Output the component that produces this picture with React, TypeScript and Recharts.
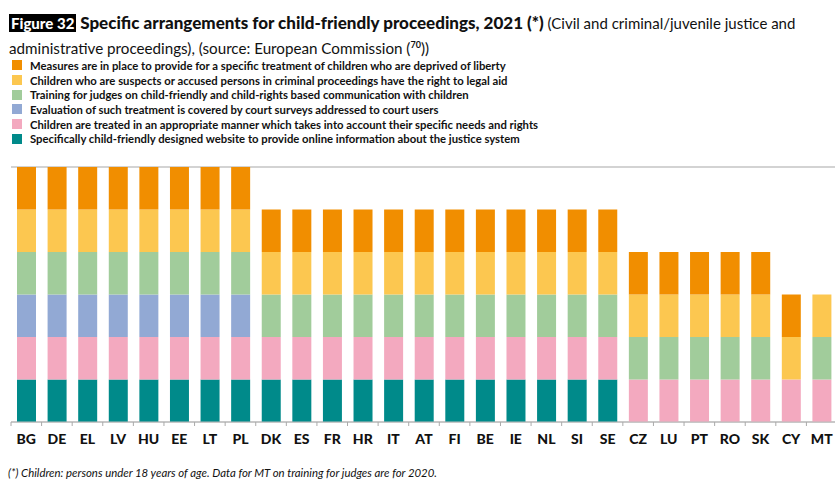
import { BarChart, Bar, XAxis, YAxis, CartesianGrid } from "recharts";

const countries = ["BG", "DE", "EL", "LV", "HU", "EE", "LT", "PL", "DK", "ES", "FR", "HR", "IT", "AT", "FI", "BE", "IE", "NL", "SI", "SE", "CZ", "LU", "PT", "RO", "SK", "CY", "MT"];

// 1 = arrangement in place, 0 = not in place
const website = [1, 1, 1, 1, 1, 1, 1, 1, 1, 1, 1, 1, 1, 1, 1, 1, 1, 1, 1, 1, 0, 0, 0, 0, 0, 0, 0];
const appropriate = [1, 1, 1, 1, 1, 1, 1, 1, 1, 1, 1, 1, 1, 1, 1, 1, 1, 1, 1, 1, 1, 1, 1, 1, 1, 1, 1];
const surveys = [1, 1, 1, 1, 1, 1, 1, 1, 0, 0, 0, 0, 0, 0, 0, 0, 0, 0, 0, 0, 0, 0, 0, 0, 0, 0, 0];
const training = [1, 1, 1, 1, 1, 1, 1, 1, 1, 1, 1, 1, 1, 1, 1, 1, 1, 1, 1, 1, 1, 1, 1, 1, 1, 0, 1];
const legalAid = [1, 1, 1, 1, 1, 1, 1, 1, 1, 1, 1, 1, 1, 1, 1, 1, 1, 1, 1, 1, 1, 1, 1, 1, 1, 1, 1];
const liberty = [1, 1, 1, 1, 1, 1, 1, 1, 1, 1, 1, 1, 1, 1, 1, 1, 1, 1, 1, 1, 1, 1, 1, 1, 1, 1, 0];

const yTicks = [0, 1, 2, 3, 4, 5, 6];

// legend order (top to bottom), stack order is the reverse
const series = [
  { key: "liberty", color: "#f18e00", label: "Measures are in place to provide for a specific treatment of children who are deprived of liberty" },
  { key: "legalAid", color: "#fcc750", label: "Children who are suspects or accused persons in criminal proceedings have the right to legal aid" },
  { key: "training", color: "#a1cc9b", label: "Training for judges on child-friendly and child-rights based communication with children" },
  { key: "surveys", color: "#92a9d4", label: "Evaluation of such treatment is covered by court surveys addressed to court users" },
  { key: "appropriate", color: "#f3a9bf", label: "Children are treated in an appropriate manner which takes into account their specific needs and rights" },
  { key: "website", color: "#008a8a", label: "Specifically child-friendly designed website to provide online information about the justice system" },
];

const data = countries.map((c, i) => ({
  country: c,
  website: website[i],
  appropriate: appropriate[i],
  surveys: surveys[i],
  training: training[i],
  legalAid: legalAid[i],
  liberty: liberty[i],
}));

const FONT = "Lato, 'Open Sans', sans-serif";
const BAND = (840 - 11 - 3) / countries.length;

const CountryTick = ({ x, y, payload }: any) => (
  <g>
    <line x1={x - BAND / 2} y1={y} x2={x - BAND / 2} y2={y + 4} stroke="#aaa" />
    <text x={x} y={y + 22} textAnchor="middle" fontFamily={FONT} fontWeight={900} fontSize={14} fill="#111">
      {payload.value}
    </text>
  </g>
);

export default function App() {
  return (
    <div style={{ position: "absolute", left: 0, top: 0, width: 835, height: 480, overflow: "hidden", background: "#fff", fontFamily: FONT }}>
      {/* Title */}
      <div style={{ position: "absolute", left: 9, top: 12, width: 826, fontSize: 15, lineHeight: "22px", color: "#111", whiteSpace: "nowrap" }}>
        <span style={{ background: "#000", color: "#fff", fontWeight: 900, padding: "0 2px" }}>Figure 32</span>{" "}
        <span style={{ fontWeight: 900, fontSize: 17 }}>Specific arrangements for child-friendly proceedings, 2021 (*)</span>{" "}
        <span style={{ fontSize: 15 }}>(Civil and criminal/juvenile justice and</span>
        <br />
        <span style={{ fontSize: 15.2 }}>
          administrative proceedings), (source: European Commission (<sup style={{ fontSize: 9, fontWeight: 700 }}>70</sup>))
        </span>
      </div>

      {/* Legend */}
      <div style={{ position: "absolute", left: 12, top: 58 }}>
        {series.map((s) => (
          <div key={s.key} style={{ display: "flex", alignItems: "center", height: 14.7 }}>
            <span style={{ width: 10, height: 10, background: s.color, marginRight: 8, flex: "none" }} />
            <span style={{ fontSize: 11.3, fontWeight: 700, color: "#111", whiteSpace: "nowrap" }}>{s.label}</span>
          </div>
        ))}
      </div>

      {/* Chart */}
      <div style={{ position: "absolute", left: 0, top: 160 }}>
        <BarChart width={840} height={292} data={data} margin={{ top: 7, right: 3, left: 11, bottom: 0 }} barSize={19}>
          <CartesianGrid vertical={false} stroke="#c4c4c4" strokeWidth={1.5} />
          <YAxis domain={[0, 6]} ticks={yTicks} tick={false} axisLine={false} tickLine={false} width={0} />
          <XAxis dataKey="country" interval={0} tickLine={false} tickSize={0} tickMargin={0} stroke="#bdbdbd" height={30} tick={<CountryTick />} />
          {[...series].reverse().map((s) => (
            <Bar key={s.key} dataKey={s.key} stackId="a" fill={s.color} isAnimationActive={false} />
          ))}
        </BarChart>
      </div>

      {/* Footnote */}
      <div style={{ position: "absolute", left: 8, top: 466, fontSize: 11.4, lineHeight: "14px", fontStyle: "italic", color: "#111" }}>
        (*) Children: persons under 18 years of age. Data for MT on training for judges are for 2020.
      </div>
    </div>
  );
}
